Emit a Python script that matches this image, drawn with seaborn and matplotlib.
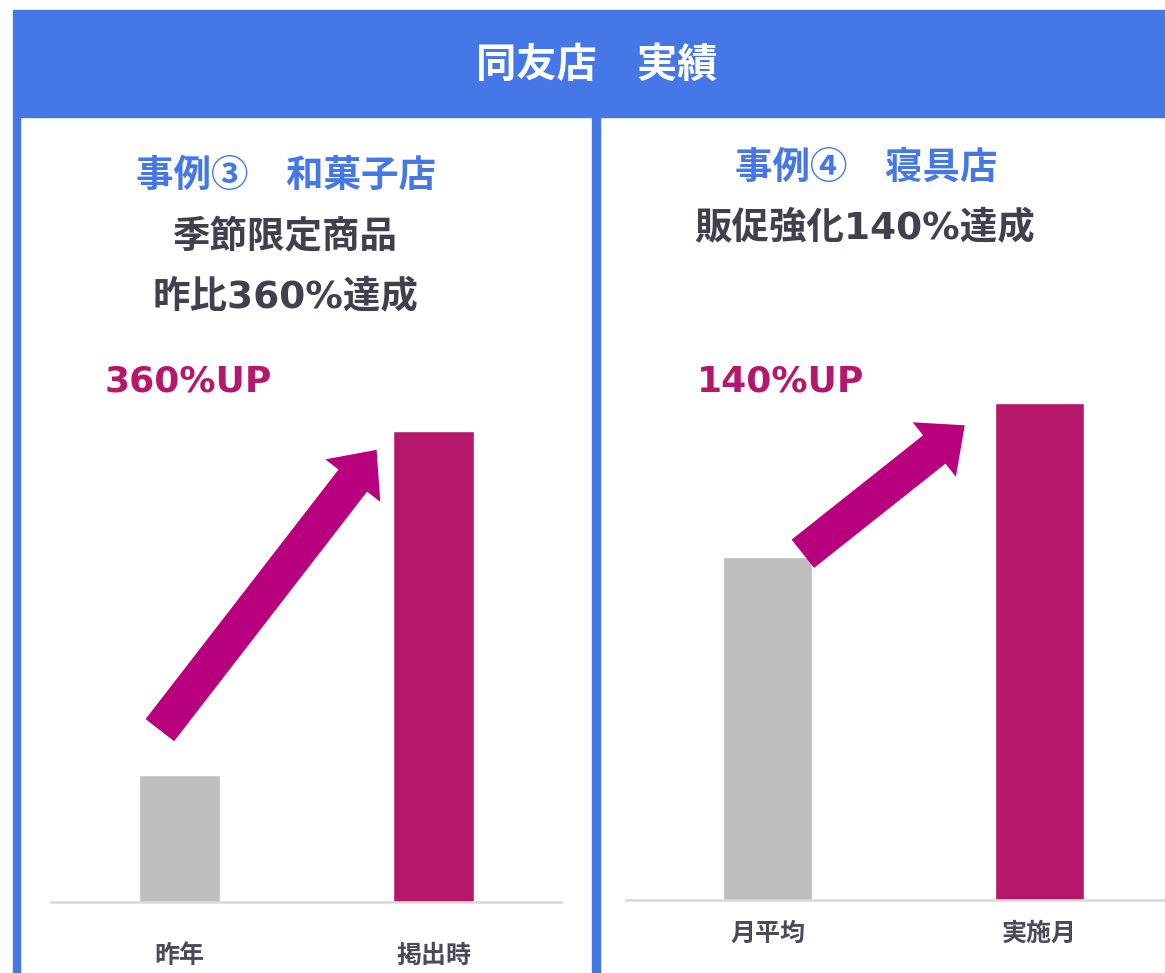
import matplotlib
matplotlib.use('Agg')
import matplotlib.pyplot as plt
from matplotlib.patches import Rectangle
import seaborn as sns

# Data
left_cats = ['昨年', '掲出時']
left_vals = [100, 370]
right_cats = ['月平均', '実施月']
right_vals = [100, 145]

header_title = '同友店　実績'
left_case = '事例③　和菓子店'
left_sub = ['季節限定商品', '昨比360%達成']
left_up = '360%UP'
right_case = '事例④　寝具店'
right_sub = ['販促強化140%達成']
right_up = '140%UP'

BLUE = '#4677E6'
GRAY = '#BEBEBE'
MAGENTA = '#B5176B'
ARROW = '#B8007E'
DARK = '#40404E'

sns.set_theme(style='white')
plt.rcParams['font.family'] = ['Noto Sans CJK JP', 'DejaVu Sans']

W, H = 1165, 973
fig = plt.figure(figsize=(W / 100, H / 100), dpi=100)


def fx(px):
    return px / W


def fy(py):
    return 1 - py / H


# header band and panel borders
fig.add_artist(Rectangle((fx(13), fy(117)), fx(1165 - 13), (117 - 10) / H,
                         transform=fig.transFigure, color=BLUE, zorder=0))
fig.add_artist(Rectangle((fx(13), 0), fx(7), fy(117),
                         transform=fig.transFigure, color=BLUE, zorder=0))
fig.add_artist(Rectangle((fx(592), 0), fx(8), fy(117),
                         transform=fig.transFigure, color=BLUE, zorder=0))
fig.text(fx(597), fy(65), header_title, color='white', fontsize=29,
         fontweight='bold', ha='center', va='center')


def draw_panel(rect, cats, vals, ylim, xlim, width, pad, tail, tip,
               tail_w, head_w, head_l):
    ax = fig.add_axes(rect)
    sns.barplot(x=cats, y=vals, hue=cats, palette=[GRAY, MAGENTA],
                width=width, dodge=False, legend=False, ax=ax,
                saturation=1, zorder=2)
    ax.set_xlim(*xlim)
    ax.set_ylim(*ylim)
    ax.set_facecolor('none')
    for s in ['left', 'top', 'right']:
        ax.spines[s].set_visible(False)
    ax.spines['bottom'].set_color('#D9D9D9')
    ax.spines['bottom'].set_linewidth(1.8)
    ax.spines['bottom'].set_zorder(3)
    ax.set_yticks([])
    ax.set_xlabel('')
    ax.set_ylabel('')
    ax.tick_params(axis='x', length=0, pad=pad, labelsize=18,
                   labelcolor='#4A4A58')
    for t in ax.get_xticklabels():
        t.set_fontweight('bold')
    ax.annotate('', xy=tip, xytext=tail, xycoords='data',
                arrowprops=dict(arrowstyle=f'simple,head_length={head_l},'
                                f'head_width={head_w},tail_width={tail_w}',
                                color=ARROW, mutation_scale=1,
                                shrinkA=0, shrinkB=0, lw=0),
                zorder=4)
    return ax


# left panel: baseline y=902, 1.273 px per unit
draw_panel([fx(51), fy(902), fx(510), 562 / H], left_cats, left_vals,
           (0, 562 / 1.273), (-0.505, 1.5), 0.318, 30,
           (-0.077, left_vals[0] * 1.35), (0.775, left_vals[1] * 0.96),
           26, 50, 28)

# right panel: baseline y=900, 3.428 px per unit
draw_panel([fx(626), fy(900), fx(539), 562 / H], right_cats, right_vals,
           (0, 562 / 3.428), (-0.52, 1.461), 0.324, 16,
           (0.13, right_vals[0] * 1.01), (0.725, right_vals[1] * 0.955),
           26, 50, 28)

# panel titles
fig.text(fx(286), fy(175), left_case, color=BLUE, fontsize=27,
         fontweight='bold', ha='center', va='center')
for i, s in enumerate(left_sub):
    fig.text(fx(285), fy(237 + 60 * i), s, color=DARK, fontsize=27,
             fontweight='bold', ha='center', va='center',
             family=['DejaVu Sans', 'Noto Sans CJK JP'])
fig.text(fx(105), fy(382), left_up, color=MAGENTA, fontsize=26,
         fontweight='bold', ha='left', va='center', family='DejaVu Sans')

fig.text(fx(866), fy(167), right_case, color=BLUE, fontsize=27,
         fontweight='bold', ha='center', va='center')
for i, s in enumerate(right_sub):
    fig.text(fx(865), fy(228 + 60 * i), s, color=DARK, fontsize=27,
             fontweight='bold', ha='center', va='center',
             family=['DejaVu Sans', 'Noto Sans CJK JP'])
fig.text(fx(697), fy(382), right_up, color=MAGENTA, fontsize=26,
         fontweight='bold', ha='left', va='center', family='DejaVu Sans')

fig.savefig('out.png', dpi=100, facecolor='white')
